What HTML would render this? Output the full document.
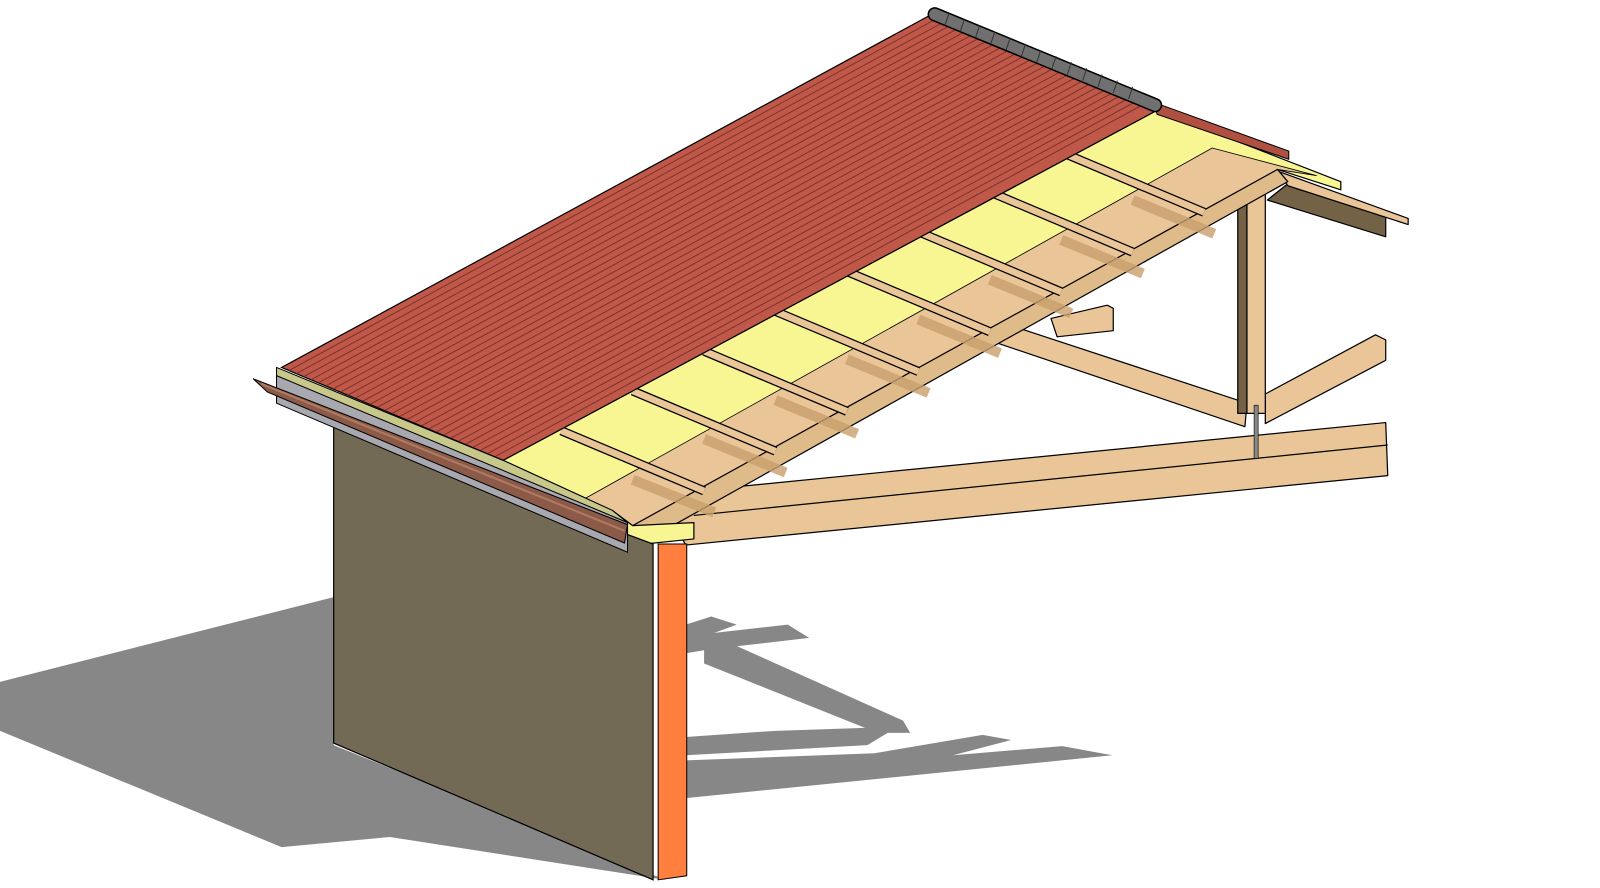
<!DOCTYPE html>
<html><head><meta charset="utf-8"><style>html,body{margin:0;padding:0;background:#fff;width:1600px;height:888px;overflow:hidden}svg{display:block}</style></head>
<body>
<svg width="1600" height="888" viewBox="0 0 1568 870" preserveAspectRatio="none" xmlns="http://www.w3.org/2000/svg">
<g fill="#878787">
<polygon points="0,668 327,585 327,730 652,862 382,820 276,830 0,716"/>
<polygon points="672,612 697,604 722,612 700,620 772,612 793,625 697,636 672,640"/>
<polygon points="690,630 720,632 885,706 892,718 860,718 690,650"/>
<polygon points="672,745 857,738 963,720 991,725 934,740 1041,731 1090,740 672,782"/>
<polygon points="672,722 760,716 880,712 850,730 672,740"/>
</g>
<g stroke="#000" stroke-width="1.2" stroke-linejoin="round">
<polygon points="690,480 1358,414 1360,466 672,534 660,512" fill="#e9c597"/>
<line x1="680" y1="505" x2="1360" y2="436"/>
<polygon points="1030,312 1085,299 1091,302 1091,324 1036,330" fill="#e9c597"/>
<polygon points="1000,322 1222,395 1220,418 977,336" fill="#e9c597"/>
<polygon points="1240,386 1348,328 1358,333 1358,353 1240,415" fill="#e9c597"/>
<rect x="1213" y="180" width="9" height="225" fill="#736245"/>
<rect x="1222" y="180" width="18" height="225" fill="#e9c597"/>
<rect x="1229" y="397" width="4" height="52" fill="#888" stroke-width="0.6"/>
<polygon points="1262,180 1358,213 1358,232 1242,196" fill="#736245"/>
<polygon points="1253,168 1380,214 1380,220 1262,182" fill="#e9c597"/>
<polygon points="493,451 1134,108 1314,178 1314,186 1252,166 620,515 600,500" fill="#f8f593"/>
<polygon points="574,488 1188,145 1290,172 1252,166 620,515 600,500" fill="#e9c597" stroke-width="0.8"/>
<polygon points="620,515 1252,166 1262,178 636,528" fill="#e0bb8a"/>
<polygon points="600,500 620,515 680,512 680,528 612,535" fill="#f8f593"/>
</g>
<g stroke="#c9a06e" stroke-width="10" opacity="0.8">
<line x1="620" y1="470" x2="700" y2="502"/><line x1="690" y1="430" x2="770" y2="463"/><line x1="760" y1="392" x2="840" y2="425"/><line x1="830" y1="352" x2="910" y2="385"/><line x1="900" y1="313" x2="980" y2="346"/><line x1="970" y1="274" x2="1050" y2="307"/><line x1="1040" y1="235" x2="1120" y2="268"/><line x1="1110" y1="196" x2="1190" y2="229"/>
</g>
<g stroke="#000" stroke-width="9" stroke-linecap="butt">
<line x1="550" y1="422" x2="690" y2="481"/><line x1="620" y1="383" x2="760" y2="442"/><line x1="690" y1="344" x2="830" y2="403"/><line x1="760" y1="305" x2="900" y2="364"/><line x1="830" y1="266" x2="970" y2="325"/><line x1="900" y1="227" x2="1040" y2="286"/><line x1="970" y1="188" x2="1110" y2="247"/><line x1="1040" y1="149" x2="1180" y2="208"/>
</g>
<g stroke="#e9c597" stroke-width="6.5">
<line x1="550" y1="422" x2="690" y2="481"/><line x1="620" y1="383" x2="760" y2="442"/><line x1="690" y1="344" x2="830" y2="403"/><line x1="760" y1="305" x2="900" y2="364"/><line x1="830" y1="266" x2="970" y2="325"/><line x1="900" y1="227" x2="1040" y2="286"/><line x1="970" y1="188" x2="1110" y2="247"/><line x1="1040" y1="149" x2="1180" y2="208"/>
</g>
<polygon points="327,417 640,533 640,862 327,728" fill="#736a55" stroke="#000" stroke-width="1.2"/>
<polygon points="645,533 673,533 673,858 645,862" fill="#ff7f3f" stroke="#000" stroke-width="1"/>
<polygon points="271,360 493,451 600,500 615,512 271,370" fill="#c8c88a" stroke="#000" stroke-width="1"/>
<polygon points="271,368 615,512 615,541 271,395" fill="#a8a8b0" stroke="#000" stroke-width="1"/>
<polygon points="248,371 615,514 612,532 262,384" fill="#8b5a48" stroke="#000" stroke-width="1"/>
<line x1="256" y1="376" x2="612" y2="520" stroke="#b07a60" stroke-width="2"/>
<polygon points="276,360 915,13 1134,108 493,451" fill="#c0584a" stroke="#000" stroke-width="1.2"/>
<g stroke="#7e332a" stroke-width="1">
<line x1="283.2" y1="363" x2="922.2" y2="16"/><line x1="290.5" y1="366" x2="929.5" y2="19"/><line x1="297.7" y1="369" x2="936.7" y2="22"/><line x1="305" y1="372" x2="944" y2="25"/><line x1="312.2" y1="375" x2="951.2" y2="28"/><line x1="319.4" y1="378" x2="958.4" y2="31"/><line x1="326.6" y1="381" x2="965.6" y2="34"/><line x1="333.9" y1="384" x2="972.9" y2="37"/><line x1="341.1" y1="387" x2="980.1" y2="40"/><line x1="348.4" y1="390" x2="987.4" y2="43"/><line x1="355.6" y1="393" x2="994.6" y2="46"/><line x1="362.8" y1="396" x2="1001.8" y2="49"/><line x1="370" y1="399" x2="1009" y2="52"/><line x1="377.3" y1="402" x2="1016.3" y2="55"/><line x1="384.5" y1="405" x2="1023.5" y2="58"/><line x1="391.8" y1="408" x2="1030.8" y2="61"/><line x1="399" y1="411" x2="1038" y2="64"/><line x1="406.2" y1="414" x2="1045.2" y2="67"/><line x1="413.4" y1="417" x2="1052.4" y2="70"/><line x1="420.7" y1="420" x2="1059.7" y2="73"/><line x1="427.9" y1="423" x2="1066.9" y2="76"/><line x1="435.2" y1="426" x2="1074.2" y2="79"/><line x1="442.4" y1="429" x2="1081.4" y2="82"/><line x1="449.6" y1="432" x2="1088.6" y2="85"/><line x1="456.8" y1="435" x2="1095.8" y2="88"/><line x1="464.1" y1="438" x2="1103.1" y2="91"/><line x1="471.3" y1="441" x2="1110.3" y2="94"/><line x1="478.6" y1="444" x2="1117.6" y2="97"/><line x1="485.8" y1="447" x2="1124.8" y2="100"/>
</g>
<polygon points="1130,100 1263,148 1263,156 1134,112" fill="#b05040" stroke="#000" stroke-width="1"/>
<line x1="916" y1="14" x2="1132" y2="103" stroke="#000" stroke-width="14" stroke-linecap="round"/>
<line x1="916" y1="14" x2="1132" y2="103" stroke="#707070" stroke-width="11" stroke-linecap="round"/>
<g stroke="#333" stroke-width="1"><line x1="930" y1="13" x2="926" y2="25"/><line x1="945" y1="19" x2="941" y2="31"/><line x1="960" y1="25" x2="956" y2="37"/><line x1="975" y1="31" x2="971" y2="43"/><line x1="990" y1="37" x2="986" y2="49"/><line x1="1005" y1="43" x2="1001" y2="55"/><line x1="1020" y1="49" x2="1016" y2="61"/><line x1="1035" y1="55" x2="1031" y2="67"/><line x1="1050" y1="61" x2="1046" y2="73"/><line x1="1065" y1="67" x2="1061" y2="79"/><line x1="1080" y1="73" x2="1076" y2="85"/><line x1="1095" y1="79" x2="1091" y2="91"/><line x1="1110" y1="85" x2="1106" y2="97"/></g>
</svg>
</body></html>
